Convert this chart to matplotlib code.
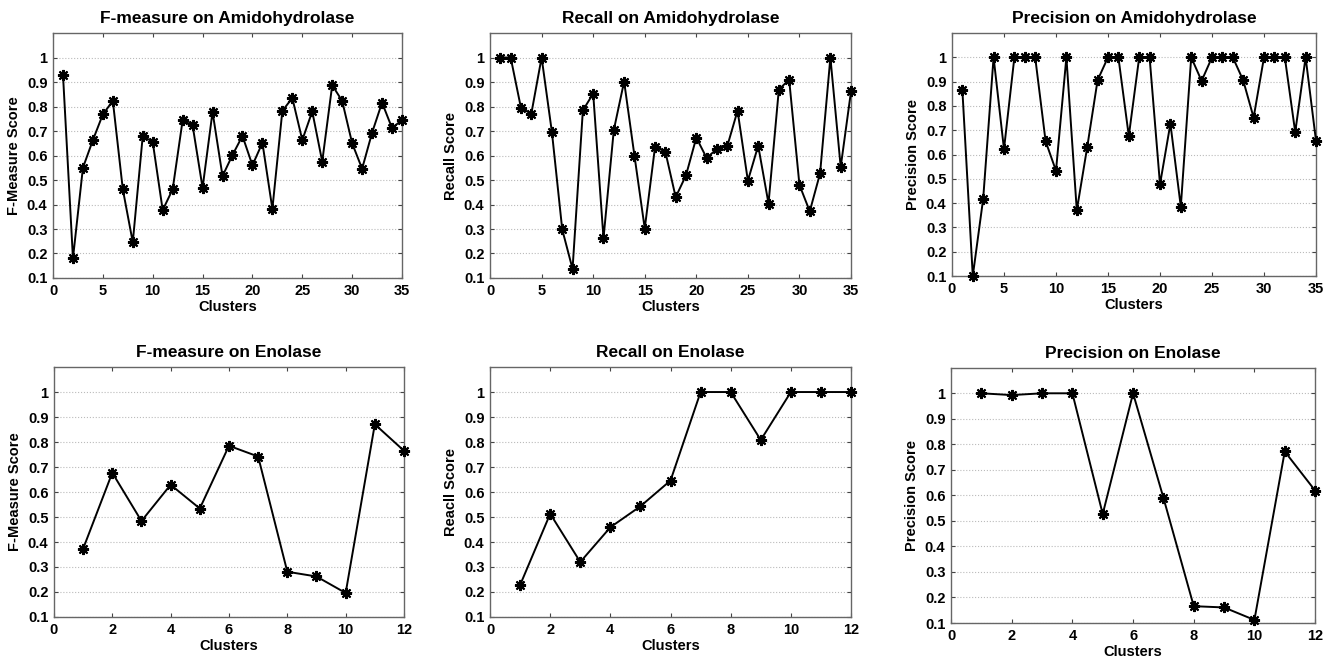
import matplotlib
matplotlib.use('Agg')
import matplotlib.pyplot as plt
import numpy as np

plt.rcParams['font.family'] = ['Liberation Sans', 'DejaVu Sans']
plt.rcParams['font.weight'] = 'bold'

# amidohydrolase, 35 clusters
amido_f = [0.93, 0.18, 0.55, 0.663, 0.768, 0.823, 0.462, 0.246, 0.68, 0.655,
           0.377, 0.462, 0.744, 0.723, 0.468, 0.778, 0.516, 0.602, 0.68, 0.56,
           0.652, 0.382, 0.782, 0.835, 0.663, 0.78, 0.575, 0.887, 0.823, 0.65,
           0.546, 0.693, 0.816, 0.712, 0.745]
amido_rec = [1.0, 1.0, 0.794, 0.77, 1.0, 0.695, 0.298, 0.137, 0.784, 0.853,
             0.262, 0.704, 0.902, 0.6, 0.302, 0.636, 0.615, 0.43, 0.519, 0.673,
             0.59, 0.627, 0.638, 0.783, 0.497, 0.64, 0.404, 0.869, 0.91, 0.48,
             0.372, 0.527, 1.0, 0.553, 0.862]
amido_prec = [0.864, 0.1, 0.418, 1.0, 0.622, 1.0, 1.0, 1.0, 0.655, 0.533,
              1.0, 0.37, 0.63, 0.906, 1.0, 1.0, 0.676, 1.0, 1.0, 0.477,
              0.727, 0.385, 1.0, 0.903, 1.0, 1.0, 1.0, 0.905, 0.752, 1.0,
              1.0, 1.0, 0.692, 1.0, 0.656]

# enolase, 12 clusters
eno_f = [0.373, 0.677, 0.484, 0.629, 0.534, 0.785, 0.742, 0.281, 0.262, 0.196, 0.871, 0.765]
eno_rec = [0.228, 0.513, 0.32, 0.459, 0.543, 0.646, 1.0, 1.0, 0.808, 1.0, 1.0, 1.0]
eno_prec = [1.0, 0.993, 1.0, 1.0, 0.527, 1.0, 0.591, 0.166, 0.161, 0.112, 0.772, 0.619]

panels = [
    (amido_f, 'F-measure on Amidohydrolase', 'F-Measure Score', [0.0398, 0.5807, 0.262, 0.3695]),
    (amido_rec, 'Recall on Amidohydrolase', 'Recall Score', [0.3679, 0.5807, 0.271, 0.3695]),
    (amido_prec, 'Precision on Amidohydrolase', 'Precision Score', [0.7147, 0.5837, 0.2733, 0.3665]),
    (eno_f, 'F-measure on Enolase', 'F-Measure Score', [0.0405, 0.0694, 0.2628, 0.377]),
    (eno_rec, 'Recall on Enolase', 'Reacll Score', [0.3679, 0.0694, 0.271, 0.377]),
    (eno_prec, 'Precision on Enolase', 'Precision Score', [0.714, 0.0603, 0.2733, 0.385]),
]

fig = plt.figure(figsize=(13.32, 6.63), dpi=100)

for vals, title, ylab, pos in panels:
    ax = fig.add_axes(pos)
    n = len(vals)
    x = np.arange(1, n + 1)
    ax.plot(x, vals, color='black', lw=1.4, marker=(8, 2, 0), ms=8, mew=1.5, clip_on=False, zorder=3)
    ax.set_xlim(0, n)
    ax.set_ylim(0.1, 1.1)
    ax.set_yticks(np.arange(0.1, 1.01, 0.1))
    ax.set_yticklabels(['0.1', '0.2', '0.3', '0.4', '0.5', '0.6', '0.7', '0.8', '0.9', '1'])
    if n == 35:
        ax.set_xticks(range(0, 36, 5))
    else:
        ax.set_xticks(range(0, 13, 2))
    ax.yaxis.grid(True, linestyle=':', color='#bbbbbb', lw=0.8)
    ax.tick_params(direction='in', top=True, right=True, labelsize=10.5, length=3, color='#444444', pad=4)
    for s in ax.spines.values():
        s.set_color('#666666')
        s.set_linewidth(1.0)
    ax.set_title(title, fontsize=12.5, fontweight='bold', pad=7)
    ax.set_xlabel('Clusters', fontsize=10.5, fontweight='bold', labelpad=2)
    ax.set_ylabel(ylab, fontsize=10.5, fontweight='bold', labelpad=4)

fig.savefig('out.png', dpi=100)
